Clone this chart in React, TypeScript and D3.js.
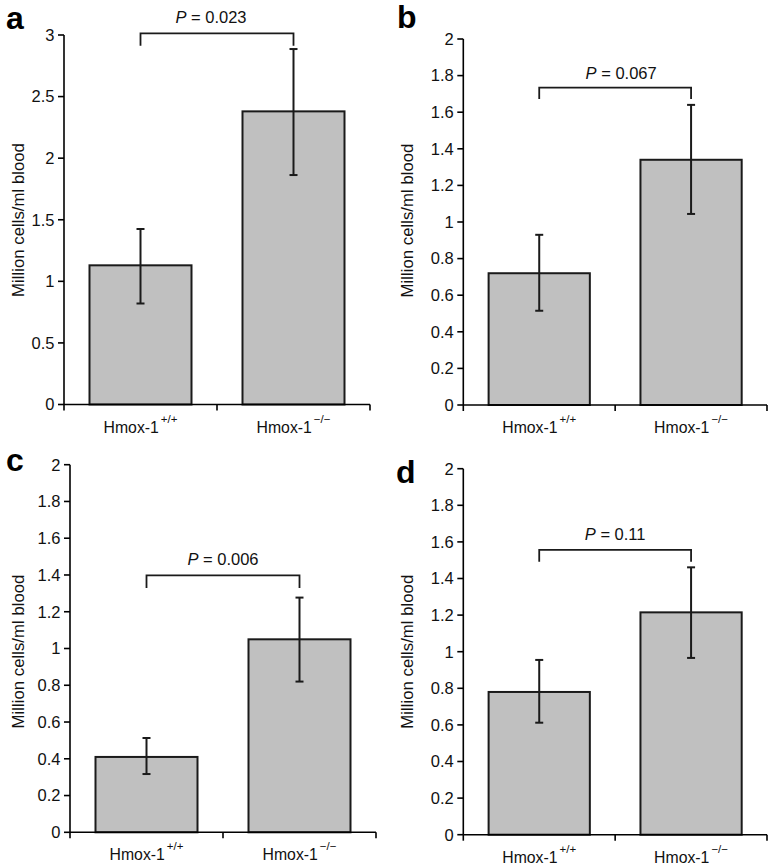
import React from "react";
import * as d3 from "d3";

// ---- data ----
const panelLabels = ["a", "b", "c", "d"];
const genotypes = ["+/+", "\u2212/\u2212"];
const wildTypeMeans = [1.13, 0.72, 0.41, 0.78];
const wildTypeLow = [0.82, 0.515, 0.317, 0.612];
const wildTypeHigh = [1.425, 0.93, 0.513, 0.955];
const knockoutMeans = [2.38, 1.34, 1.05, 1.215];
const knockoutLow = [1.863, 1.044, 0.82, 0.966];
const knockoutHigh = [2.886, 1.64, 1.277, 1.461];
const pValues = ["0.023", "0.067", "0.006", "0.11"];
const bracketTop = [3.014, 1.734, 1.398, 1.556];
const bracketBottom = [2.913, 1.672, 1.329, 1.492];
const yMax = [3, 2, 2, 2];
const yStep = [0.5, 0.2, 0.2, 0.2];
const yTitle = "Million cells/ml blood";

// ---- layout (pixel frames of each panel) ----
const frames = [
  { left: 64, right: 370, top: 35, bottom: 404.5, labX: 6, labY: 29, titleX: 23.5, titleCY: 220, pGap: 10, pDx: -6 },
  { left: 463.3, right: 767, top: 39, bottom: 405, labX: 397, labY: 28, titleX: 413, titleCY: 220.5, pGap: 8.5, pDx: 6 },
  { left: 70, right: 376, top: 464.7, bottom: 832.3, labX: 6, labY: 470.5, titleX: 23.5, titleCY: 651.5, pGap: 10, pDx: 0 },
  { left: 463.3, right: 767, top: 468.7, bottom: 834.7, labX: 396, labY: 483, titleX: 413, titleCY: 651.7, pGap: 10, pDx: 0 },
];

const FONT = "'Liberation Sans', Arial, Helvetica, sans-serif";
const DARK = "#1a1a1a";

function Panel({ i }: { i: number }) {
  const f = frames[i];
  const y = d3.scaleLinear().domain([0, yMax[i]]).range([f.bottom, f.top]);
  const x = d3
    .scaleBand<string>()
    .domain(genotypes)
    .range([f.left, f.right])
    .paddingInner(1 / 3)
    .paddingOuter(1 / 6);
  const ticks = d3.range(0, yMax[i] + 1e-9, yStep[i]);
  const means = [wildTypeMeans[i], knockoutMeans[i]];
  const lows = [wildTypeLow[i], knockoutLow[i]];
  const highs = [wildTypeHigh[i], knockoutHigh[i]];
  const cx = (g: string) => (x(g) as number) + x.bandwidth() / 2;
  const mid = (f.left + f.right) / 2;
  const bx1 = cx(genotypes[0]);
  const bx2 = cx(genotypes[1]);
  const bTop = y(bracketTop[i]);
  const bBot = y(bracketBottom[i]);
  return (
    <g>
      <text x={f.labX} y={f.labY} fontFamily={FONT} fontWeight="bold" fontSize={32} fill="#000">
        {panelLabels[i]}
      </text>
      {/* bars */}
      {genotypes.map((g, k) => (
        <rect
          key={g}
          x={x(g)}
          y={y(means[k])}
          width={x.bandwidth()}
          height={y(0) - y(means[k])}
          fill="#c0c0c0"
          stroke={DARK}
          strokeWidth={2}
        />
      ))}
      {/* error bars */}
      {genotypes.map((g, k) => (
        <g key={"e" + g} stroke={DARK} strokeWidth={2}>
          <line x1={cx(g)} x2={cx(g)} y1={y(lows[k])} y2={y(highs[k])} />
          <line x1={cx(g) - 4} x2={cx(g) + 4} y1={y(lows[k])} y2={y(lows[k])} />
          <line x1={cx(g) - 4} x2={cx(g) + 4} y1={y(highs[k])} y2={y(highs[k])} />
        </g>
      ))}
      {/* axes */}
      <g stroke="#000" strokeWidth={1.6} fill="none">
        <line x1={f.left} x2={f.left} y1={y(yMax[i])} y2={y(0)} />
        <line x1={f.left} x2={f.right} y1={y(0)} y2={y(0)} />
        {ticks.map((t) => (
          <line key={t} x1={f.left - 6} x2={f.left} y1={y(t)} y2={y(t)} />
        ))}
        {[f.left, mid, f.right].map((tx, k) => (
          <line key={k} x1={tx} x2={tx} y1={y(0)} y2={y(0) + 6} />
        ))}
      </g>
      {ticks.map((t) => (
        <text
          key={"t" + t}
          x={f.left - 9.5}
          y={y(t) + 5.8}
          textAnchor="end"
          fontFamily={FONT}
          fontSize={16.5}
          fill="#111"
        >
          {String(+t.toFixed(1))}
        </text>
      ))}
      {/* x labels */}
      {genotypes.map((g) => (
        <text
          key={"x" + g}
          x={cx(g)}
          y={y(0) + 28}
          textAnchor="middle"
          fontFamily={FONT}
          fontSize={15.8}
          fill="#111"
        >
          Hmox-1
          <tspan dy={-10} dx={2} fontSize={11.5}>
            {g}
          </tspan>
        </text>
      ))}
      {/* y title */}
      <text
        transform={`translate(${f.titleX},${f.titleCY}) rotate(-90)`}
        textAnchor="middle"
        fontFamily={FONT}
        fontSize={16.8}
        fill="#111"
      >
        {yTitle}
      </text>
      {/* significance bracket */}
      <path
        d={`M${bx1},${bBot}V${bTop}H${bx2}V${bBot}`}
        fill="none"
        stroke={DARK}
        strokeWidth={1.8}
      />
      <text
        x={(bx1 + bx2) / 2 + f.pDx}
        y={bTop - f.pGap}
        textAnchor="middle"
        fontFamily={FONT}
        fontSize={16.5}
        fill="#111"
      >
        <tspan fontStyle="italic">P</tspan>
        {" = " + pValues[i]}
      </text>
    </g>
  );
}

export default function App() {
  return (
    <div style={{ position: "absolute", left: 0, top: 0, background: "#fff" }}>
      <svg width={777} height={868} viewBox="0 0 777 868" style={{ display: "block" }}>
        <rect width={777} height={868} fill="#fff" />
        {panelLabels.map((_, i) => (
          <Panel key={i} i={i} />
        ))}
      </svg>
    </div>
  );
}
